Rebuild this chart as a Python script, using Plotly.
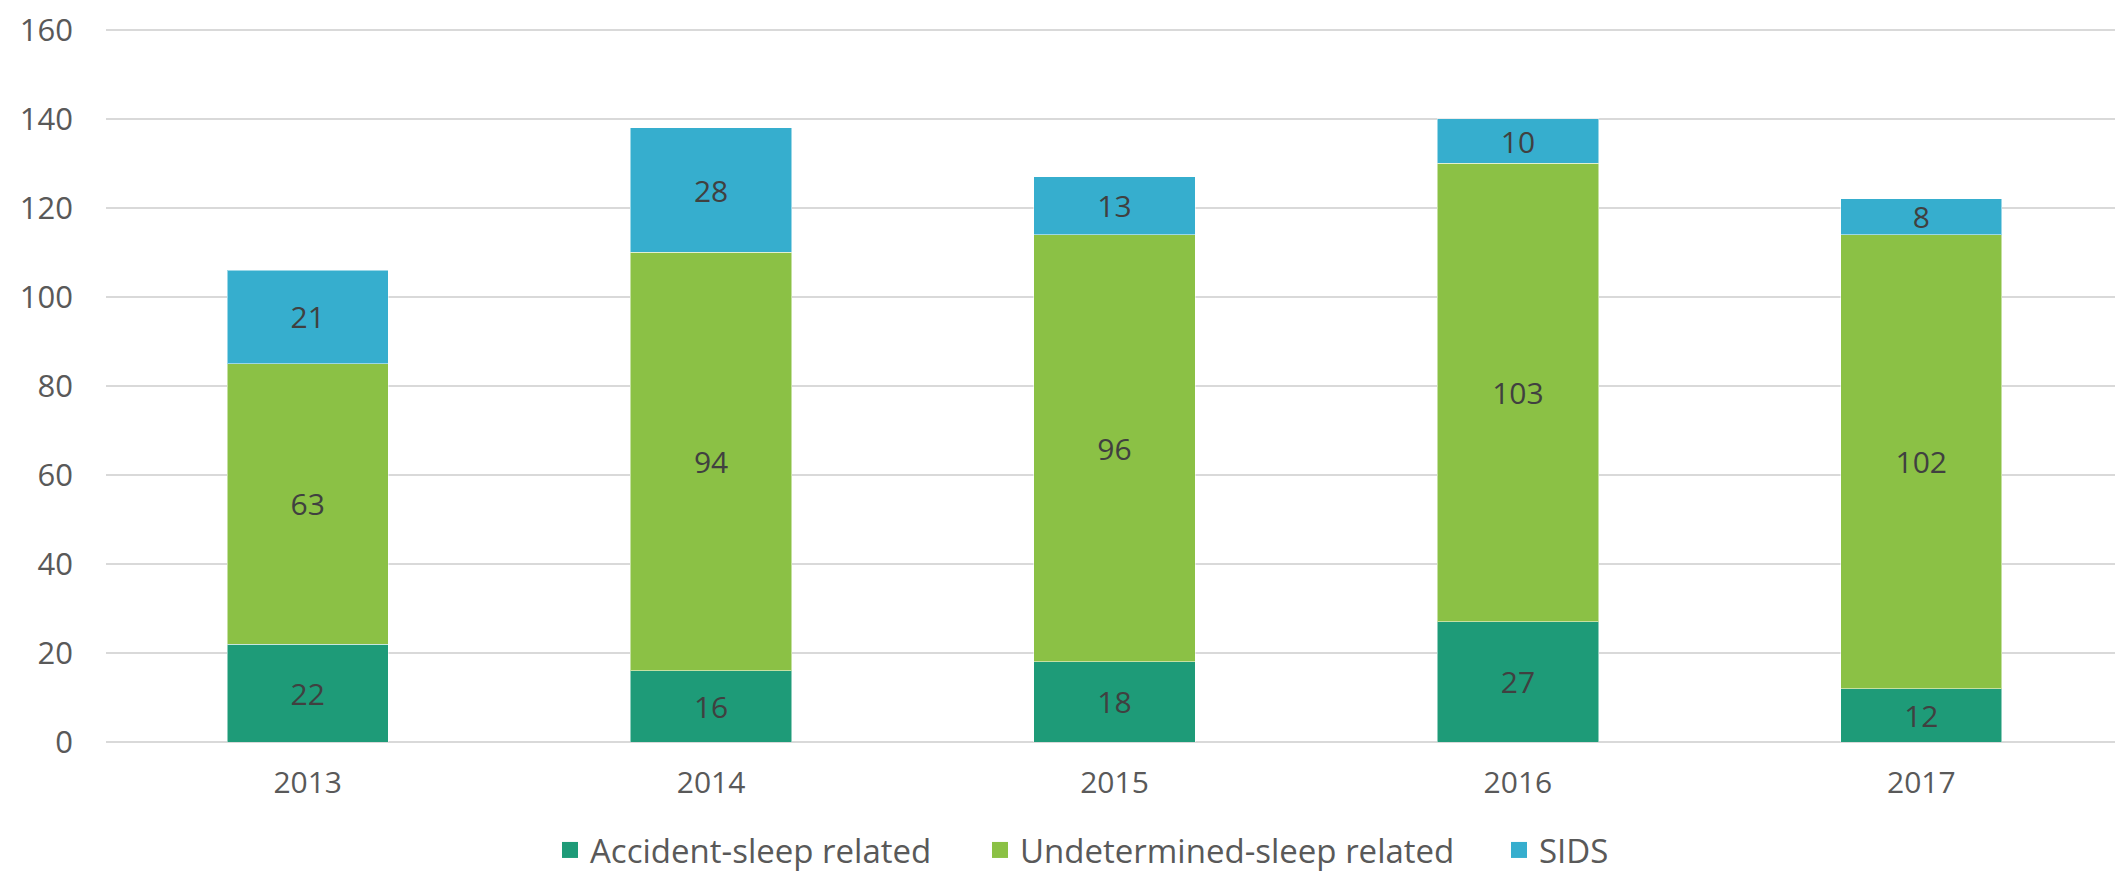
import plotly.graph_objects as go

years = ["2013", "2014", "2015", "2016", "2017"]
accident = [22, 16, 18, 27, 12]
undetermined = [63, 94, 96, 103, 102]
sids = [21, 28, 13, 10, 8]

series = [
    ("Accident-sleep related", accident, "#1E9B78"),
    ("Undetermined-sleep related", undetermined, "#8BC145"),
    ("SIDS", sids, "#36AECE"),
]

FONT = "Open Sans"
# the page body has an 8px margin; figure size/margins account for it
FIG_W, FIG_H = 2115, 870
legend_text_starts = [590, 1020, 1539]  # page px where each legend label begins

fig = go.Figure()
for name, vals, color in series:
    fig.add_trace(go.Bar(
        x=years, y=vals, name=name,
        marker=dict(color=color, line=dict(width=1, color="rgba(255,255,255,0.5)")),
        text=vals, texttemplate="%{text}",
        textposition="inside", insidetextanchor="middle",
        constraintext="none", textangle=0,
        textfont=dict(family=FONT, size=30, color="#404040"),
        hoverinfo="skip", showlegend=False,
    ))

legend_keys = ["legend", "legend2", "legend3"]
for (name, vals, color), key in zip(series, legend_keys):
    fig.add_trace(go.Scatter(
        x=[None], y=[None], mode="markers", name=name,
        marker=dict(symbol="square", size=21, color=color),
        legend=key, showlegend=True, hoverinfo="skip",
    ))

leg_common = dict(
    orientation="h", xref="container", xanchor="left",
    yref="container", y=0.0, yanchor="bottom",
    font=dict(family=FONT, size=33, color="#595959"),
    itemwidth=30, bgcolor="rgba(0,0,0,0)",
)
legends = {}
for key, start in zip(legend_keys, legend_text_starts):
    legends[key] = dict(leg_common, x=(start - 8 - 40) / FIG_W)

fig.update_layout(
    barmode="stack",
    bargap=0.6,
    width=FIG_W, height=FIG_H,
    margin=dict(l=98, r=0, t=15, b=136),
    paper_bgcolor="white", plot_bgcolor="white",
    font=dict(family=FONT, size=30, color="#595959"),
    showlegend=True,
    **legends,
)
fig.update_xaxes(
    showline=False, showgrid=False, ticks="",
    tickfont=dict(family=FONT, size=30, color="#595959"),
    ticklabelstandoff=20,
)
fig.update_yaxes(
    range=[0, 160.4], dtick=20, tick0=0,
    showgrid=True, gridcolor="#D9D9D9", gridwidth=1.5,
    zeroline=True, zerolinecolor="#D9D9D9", zerolinewidth=1.5,
    showline=False, ticks="",
    tickfont=dict(family=FONT, size=31, color="#595959"),
    ticklabelstandoff=32, ticklabeloverflow="allow",
)

fig.write_html("out.html")
